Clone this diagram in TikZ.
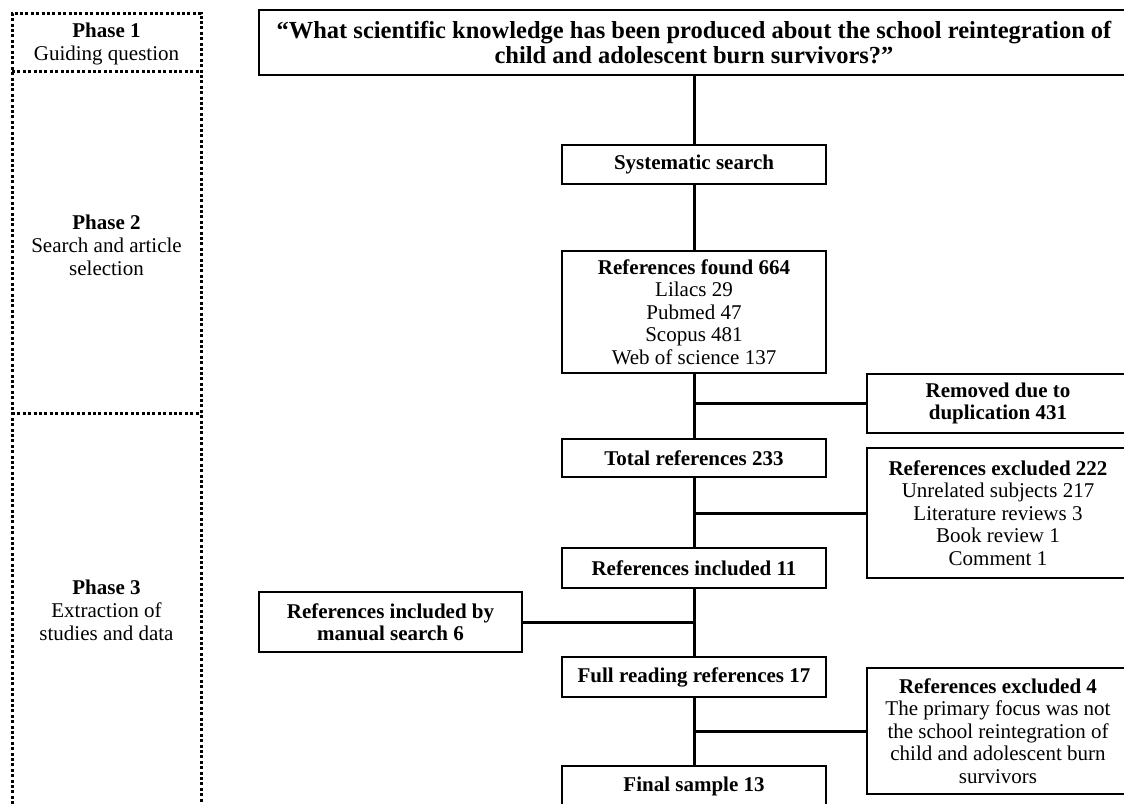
\documentclass[tikz,border=0pt]{standalone}
\usepackage{fontspec}
\setmainfont{Liberation Serif}
\begin{document}
\begin{tikzpicture}[x=1pt,y=-1pt,
  box/.style={draw,line width=2pt,inner sep=0pt,align=center,font=\fontsize{21}{22.5}\selectfont},
  trunkbox/.style={box,minimum width=264pt},
  sidebox/.style={box,minimum width=262pt},
  conn/.style={line width=3pt},
  phaseline/.style={line width=3pt,dash pattern=on 3pt off 2.4pt},
  phasetext/.style={align=center,inner sep=0pt,font=\fontsize{21}{23}\selectfont}]
\useasboundingbox (0,0) rectangle (1124,803);
% phase column
\draw[phaseline] (12,815) -- (12,13) -- (201,13) -- (201,815);
\draw[phaseline] (12,71) -- (201,71);
\draw[phaseline] (12,413) -- (201,413);
\node[phasetext] (p1) at (106.5,44) {\textbf{Phase 1}\\Guiding question};
\node[phasetext] (p2) at (106.5,245) {\textbf{Phase 2}\\Search and article\\selection};
\node[phasetext] (p3) at (106.5,610) {\textbf{Phase 3}\\Extraction of\\studies and data};
% main boxes
\node[box,minimum width=870pt,minimum height=65pt,font=\fontsize{24.5}{25}\selectfont\bfseries] (q) at (694,42.5)
  {“What scientific knowledge has been produced about the school reintegration of\\child and adolescent burn survivors?”};
\node[trunkbox,minimum height=39pt] (sys) at (694,164.5) {\textbf{Systematic search}};
\node[trunkbox,minimum height=122pt] (found) at (694,312) {\textbf{References found 664}\\Lilacs 29\\Pubmed 47\\Scopus 481\\Web of science 137};
\node[sidebox,minimum height=59pt] (removed) at (998,403.5) {\textbf{Removed due to}\\\textbf{duplication 431}};
\node[trunkbox,minimum height=38pt] (total) at (694,458) {\textbf{Total references 233}};
\node[sidebox,minimum height=130pt] (excl1) at (998,513) {\textbf{References excluded 222}\\Unrelated subjects 217\\Literature reviews 3\\Book review 1\\Comment 1};
\node[trunkbox,minimum height=40pt] (incl) at (694,568) {\textbf{References included 11}};
\node[box,minimum width=263pt,minimum height=60pt] (manual) at (390.5,622) {\textbf{References included by}\\\textbf{manual search 6}};
\node[trunkbox,minimum height=40pt] (full) at (694,677) {\textbf{Full reading references 17}};
\node[sidebox,minimum height=126pt] (excl2) at (998,731) {\textbf{References excluded 4}\\The primary focus was not\\the school reintegration of\\child and adolescent burn\\survivors};
\node[trunkbox,minimum height=40pt] (final) at (694,786) {\textbf{Final sample 13}};
% connectors
\draw[conn] (q.south) -- (sys.north);
\draw[conn] (sys.south) -- (found.north);
\draw[conn] (found.south) -- (total.north);
\draw[conn] (total.south) -- (incl.north);
\draw[conn] (incl.south) -- (full.north);
\draw[conn] (full.south) -- (final.north);
\draw[conn] (found.south |- removed.west) -- (removed.west);
\draw[conn] (total.south |- excl1.west) -- (excl1.west);
\draw[conn] (manual.east) -- (manual.east -| incl.south);
\draw[conn] (full.south |- excl2.west) -- (excl2.west);
\end{tikzpicture}
\end{document}
